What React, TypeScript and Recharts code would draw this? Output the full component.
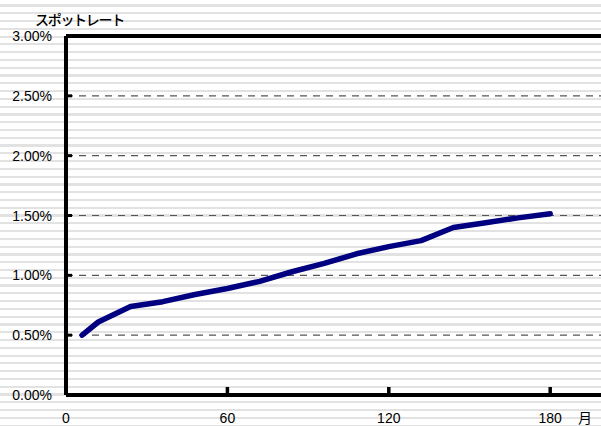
import React from "react";
import {
  LineChart,
  Line,
  XAxis,
  YAxis,
  CartesianGrid,
  ReferenceLine,
  Label,
} from "recharts";

// months to maturity and spot rate (as fraction)
const months = [6, 12, 24, 36, 48, 60, 72, 84, 96, 108, 120, 132, 144, 156, 168, 180];
const spotRates = [
  0.005, 0.0061, 0.0074, 0.0078, 0.0084, 0.0089, 0.0095, 0.0103, 0.0110,
  0.0118, 0.0124, 0.0129, 0.0140, 0.0144, 0.0148, 0.01515,
];
const xTicks = [0, 60, 120, 180];
const yTicks = [0, 0.005, 0.01, 0.015, 0.02, 0.025, 0.03];

const data = months.map((m, i) => ({ month: m, rate: spotRates[i] }));

const FONT = "'Liberation Sans', Arial, sans-serif";
const JP_FONT = "'Noto Sans CJK JP', 'Liberation Sans', sans-serif";

const YTick = (props: any) => {
  const { x, y, payload } = props;
  const v = payload.value;
  const inner = v > 0 && v < 0.03;
  return (
    <g>
      {inner && <line x1={x} x2={x + 6} y1={y} y2={y} stroke="#000" strokeWidth={3} />}
      <text
        x={x - 14}
        y={y}
        dy={5}
        textAnchor="end"
        fontFamily={FONT}
        fontSize={14}
        fill="#000"
      >
        {(v * 100).toFixed(2)}%
      </text>
    </g>
  );
};

const XTick = (props: any) => {
  const { x, y, payload } = props;
  return (
    <g>
      {payload.value > 0 && (
        <line x1={x} x2={x} y1={y} y2={y - 8} stroke="#000" strokeWidth={3.5} />
      )}
      <text x={x} y={y + 28} textAnchor="middle" fontFamily={FONT} fontSize={14} fill="#000">
        {payload.value}
      </text>
    </g>
  );
};

export default function App() {
  return (
    <div
      style={{
        position: "fixed",
        left: 0,
        top: 0,
        width: 601,
        height: 426,
        overflow: "hidden",
        background:
          "repeating-linear-gradient(to bottom, #ffffff 0px, #ffffff 4.4px, #e2e2e2 4.4px, #e2e2e2 6.6px, #ffffff 6.6px, #ffffff 7.78px)",
      }}
    >
      <LineChart
        width={610}
        height={426}
        data={data}
        margin={{ top: 36, right: 6, bottom: 0, left: 0 }}
      >
        <CartesianGrid
          horizontal
          vertical={false}
          stroke="#555"
          strokeDasharray="7 6"
          strokeWidth={1.1}
        />
        <XAxis
          dataKey="month"
          type="number"
          domain={[0, 200]}
          ticks={xTicks}
          height={31}
          axisLine={{ stroke: "#000", strokeWidth: 4 }}
          tickLine={false}
          tickSize={0}
          tickMargin={0}
          tick={<XTick />}
          interval={0}
        >
          <Label
            content={(p: any) => {
              const vb = p.viewBox;
              return (
                <text
                  x={vb.x + vb.width - 19}
                  y={vb.y + 28}
                  textAnchor="middle"
                  fontFamily={JP_FONT}
                  fontSize={14}
                  fill="#000"
                >
                  月
                </text>
              );
            }}
          />
        </XAxis>
        <YAxis
          type="number"
          domain={[0, 0.03]}
          ticks={yTicks}
          width={66}
          axisLine={{ stroke: "#000", strokeWidth: 4 }}
          tickLine={false}
          tickSize={0}
          tickMargin={0}
          tick={<YTick />}
          interval={0}
        >
          <Label
            content={(p: any) => {
              const vb = p.viewBox;
              return (
                <text
                  x={35}
                  y={vb.y - 11}
                  fontFamily={JP_FONT}
                  fontSize={14}
                  fontWeight={500}
                  letterSpacing={-1.3}
                  fill="#000"
                >
                  スポットレート
                </text>
              );
            }}
          />
        </YAxis>
        <ReferenceLine y={0.03} stroke="#000" strokeWidth={4} />
        <Line
          type="linear"
          dataKey="rate"
          stroke="#000080"
          strokeWidth={5.5}
          strokeLinecap="round"
          strokeLinejoin="round"
          dot={false}
          isAnimationActive={false}
        />
      </LineChart>
    </div>
  );
}
